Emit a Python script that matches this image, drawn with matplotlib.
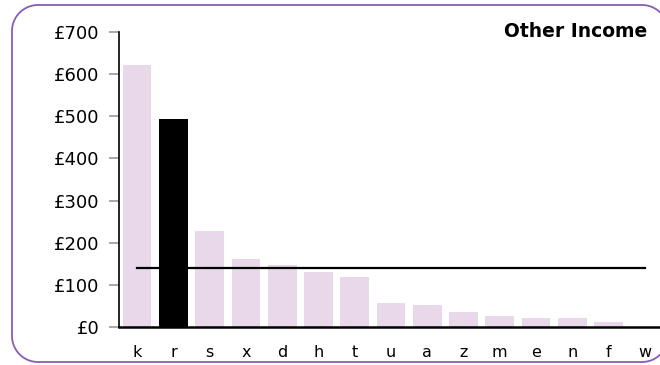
import matplotlib
matplotlib.use("Agg")
import matplotlib.pyplot as plt
from matplotlib.lines import Line2D
import numpy as np

categories = ["k", "r", "s", "x", "d", "h", "t", "u", "a", "z", "m", "e", "n", "f", "w"]
values = [622, 493, 228, 161, 147, 130, 118, 57, 52, 36, 25, 22, 21, 12, 0]
highlight = "r"
average = 141
yticks = [0, 100, 200, 300, 400, 500, 600, 700]
title = "Other Income"

W, H = 660, 365
fig = plt.figure(figsize=(W / 100, H / 100), dpi=100)
plt.rcParams['font.family'] = ['DejaVu Sans']

# rounded frame, drawn as an open path in pixel coordinates (y down)
L, R, T, B, rad = 12, 668, 5, 362, 26
def arc(cx, cy, a0, a1, n=20):
    a = np.radians(np.linspace(a0, a1, n))
    return cx + rad * np.cos(a), cy - rad * np.sin(a)
segs = [arc(R - rad, B - rad, -90, 0),      # bottom-right corner (going up)
        arc(R - rad, T + rad, 0, 90),       # top-right corner
        arc(L + rad, T + rad, 90, 180),     # top-left corner
        arc(L + rad, B - rad, 180, 270)]    # bottom-left corner
px = np.concatenate([s[0] for s in segs[1:]] + [segs[0][0]])
py = np.concatenate([s[1] for s in segs[1:]] + [segs[0][1]])
frame = Line2D(px / W, 1 - py / H, transform=fig.transFigure,
               color="#8a5cb8", linewidth=1.3, solid_joinstyle="round")
fig.lines.append(frame)

ax = fig.add_axes([119 / W, (H - 327) / H, (663 - 119) / W, (327 - 32) / H])
x = np.arange(len(categories))
colors = ["#000000" if c == highlight else "#e9d8ea" for c in categories]
ax.bar(x, values, width=0.79, color=colors, zorder=2)
ax.plot([x[0], x[-1]], [average, average], color="black", linewidth=1.6, zorder=3)

ax.set_xlim(-0.5, len(categories) - 0.5)
ax.set_ylim(0, 700)
ax.set_yticks(yticks)
ax.set_yticklabels([f"£{v}" for v in yticks], fontsize=13)
ax.set_xticks(x)
ax.set_xticklabels(categories, fontsize=11.5)
ax.tick_params(axis="y", length=7, width=1.2, color="#999999", pad=7)
ax.tick_params(axis="x", length=0, pad=13)
for s in ["top", "right"]:
    ax.spines[s].set_visible(False)
ax.spines["left"].set_linewidth(1.2)
ax.spines["bottom"].set_linewidth(1.8)
ax.spines["bottom"].set_clip_on(False)

fig.text(647 / W, 1 - 37 / H, title, ha="right", va="baseline",
         fontsize=13.5, fontweight="bold")

fig.savefig("out.png", dpi=100)
